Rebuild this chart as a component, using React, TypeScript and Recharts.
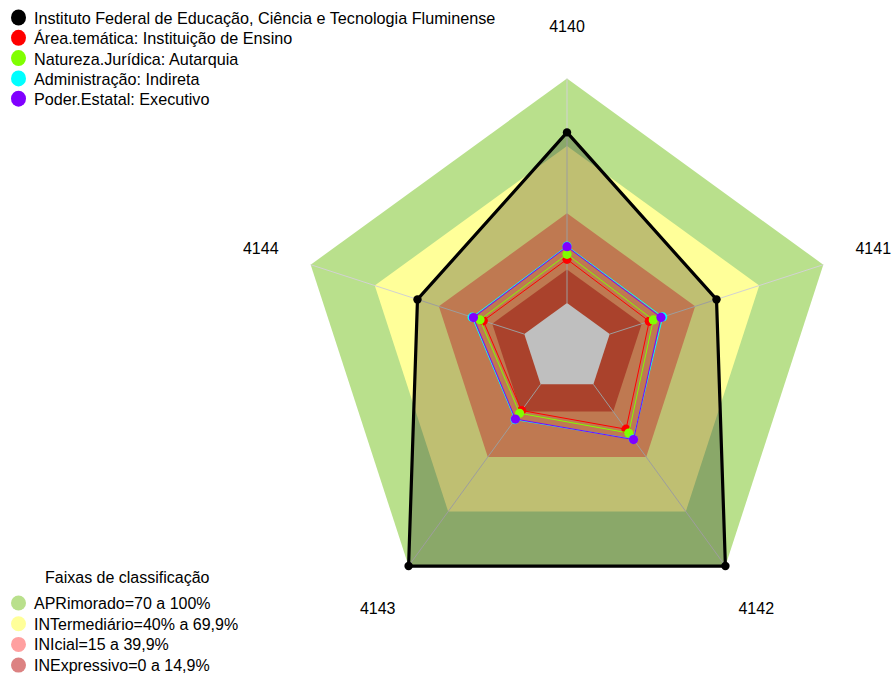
import React from 'react';
import { RadarChart, Radar, PolarAngleAxis, PolarRadiusAxis } from 'recharts';

// ---- data ----
const categories = ['4140', '4141', '4142', '4143', '4144'];
const ifesValues = [76, 50, 100, 100, 50];
const areaValues = [19.5, 18.5, 24.7, 14.4, 19.2];
const naturezaValues = [21.7, 20.4, 26.8, 15.9, 20.7];
const administracaoValues = [25.4, 24.8, 30.2, 19.4, 24.4];
const poderValues = [25.1, 24, 30.4, 19.1, 23.8];

const seriesKeys = ['ifes', 'area', 'natureza', 'administracao', 'poder'];
const seriesNames = [
  'Instituto Federal de Educação, Ciência e Tecnologia Fluminense',
  'Área.temática: Instituição de Ensino',
  'Natureza.Jurídica: Autarquia',
  'Administração: Indireta',
  'Poder.Estatal: Executivo',
];
const seriesColors = ['#000000', '#ff0000', '#80ff00', '#00ffff', '#8000ff'];

const bandLimits = [100, 70, 40, 15, 0];
const bandFills = ['#b9e08c', '#ffff99', '#ffa26c', '#e3593b', '#ffffff'];
const bandTitle = 'Faixas de classificação';
const bandLabels = [
  'APRimorado=70 a 100%',
  'INTermediário=40% a 69,9%',
  'INIcial=15 a 39,9%',
  'INExpressivo=0 a 14,9%',
];
const bandLegendColors = ['#b9e08c', '#ffff99', '#ffa0a0', '#dc8282'];

const radiusDomain = [-20, 100];

const seriesValues = [ifesValues, areaValues, naturezaValues, administracaoValues, poderValues];

const data = categories.map((c, i) => {
  const row: any = { axis: c };
  seriesKeys.forEach((k, s) => {
    row[k] = seriesValues[s][i];
  });
  bandLimits.forEach((b) => {
    row['b' + b] = b;
  });
  return row;
});

// ---- layout ----
const W = 893;
const H = 675;
const CX = 567;
const CY = 348;
const R = 269.5;
const LABEL_R = 322;
const FONT = '"Liberation Sans", Arial, sans-serif';

function AngleTick(props: any) {
  const { x, y, payload } = props;
  const dx = x - CX;
  const dy = y - CY;
  const d = Math.hypot(dx, dy) || 1;
  const lx = CX + (dx / d) * LABEL_R;
  const ly = CY + (dy / d) * LABEL_R;
  return (
    <text x={lx} y={ly} textAnchor="middle" dominantBaseline="central" fontSize={16} fontFamily={FONT} fill="#000">
      {payload.value}
    </text>
  );
}

function polyPath(pts: any[]) {
  return pts.map((p, i) => (i ? 'L' : 'M') + p.x + ',' + p.y).join(' ') + 'Z';
}

const bandShape = (fill: string) => (props: any) => (
  <path d={polyPath(props.points || [])} fill={fill} stroke="none" />
);

// innermost band (value 0): draws the spokes from its vertices outward, then the white centre
const centreShape = (props: any) => {
  const pts = props.points || [];
  return (
    <g>
      {pts.map((p: any, i: number) => {
        const dx = p.x - CX;
        const dy = p.y - CY;
        const d = Math.hypot(dx, dy) || 1;
        return (
          <line key={i} x1={p.x} y1={p.y} x2={CX + (dx / d) * R} y2={CY + (dy / d) * R} stroke="#d2d2d2" strokeWidth={1} />
        );
      })}
      <path d={polyPath(pts)} fill="#ffffff" stroke="none" />
    </g>
  );
};

const seriesShape = (color: string, width: number, fill: string, fillOpacity: number, dotR: number) => (props: any) => {
  const pts = props.points || [];
  return (
    <g>
      <path d={polyPath(pts)} fill={fill} fillOpacity={fillOpacity} stroke={color} strokeWidth={width} strokeLinejoin="round" />
      {pts.map((p: any, i: number) => (
        <circle key={i} cx={p.x} cy={p.y} r={dotR} fill={color} />
      ))}
    </g>
  );
};

export default function App() {
  const outerBands = bandLimits.slice(0, 4);
  const innerBand = bandLimits[4];
  return (
    <div style={{ position: 'absolute', left: 0, top: 0, width: W, height: H, background: '#fff' }}>
      <RadarChart
        width={W}
        height={H}
        data={data}
        cx={CX}
        cy={CY}
        outerRadius={R}
        startAngle={90}
        endAngle={-270}
        margin={{ top: 0, right: 0, bottom: 0, left: 0 }}
      >
        <PolarAngleAxis dataKey="axis" axisLine={false} tickLine={false} tick={<AngleTick />} />
        <PolarRadiusAxis domain={radiusDomain as any} type="number" tick={false} axisLine={false} tickCount={2} />
        {outerBands.map((b, i) => (
          <Radar
            key={'band' + b}
            dataKey={'b' + b}
            shape={bandShape(bandFills[i])}
            dot={false}
            isAnimationActive={false}
          />
        ))}
        <Radar dataKey={'b' + innerBand} shape={centreShape} dot={false} isAnimationActive={false} />
        <Radar
          dataKey={seriesKeys[0]}
          shape={seriesShape(seriesColors[0], 3.2, '#000000', 0.25, 4.2)}
          dot={false}
          isAnimationActive={false}
        />
        {seriesKeys.slice(1).map((k, i) => (
          <Radar
            key={k}
            dataKey={k}
            shape={seriesShape(seriesColors[i + 1], 1, 'none', 0, 4.6)}
            dot={false}
            isAnimationActive={false}
          />
        ))}
      </RadarChart>
      <svg width={W} height={H} style={{ position: 'absolute', left: 0, top: 0, pointerEvents: 'none' }}>
        {seriesNames.map((n, i) => (
          <g key={n}>
            <ellipse cx={18.5} cy={17.5 + i * 20.3} rx={7.5} ry={8} fill={seriesColors[i]} />
            <text x={34} y={24 + i * 20.3} fontSize={16.2} fontFamily={FONT} fill="#000">
              {n}
            </text>
          </g>
        ))}
        <text x={45} y={583} fontSize={16} fontFamily={FONT} fill="#000">
          {bandTitle}
        </text>
        {bandLabels.map((l, i) => (
          <g key={l}>
            <circle cx={18.5} cy={603 + i * 20.7} r={7.5} fill={bandLegendColors[i]} />
            <text x={34} y={609.3 + i * 20.5} fontSize={16} fontFamily={FONT} fill="#000">
              {l}
            </text>
          </g>
        ))}
      </svg>
    </div>
  );
}
